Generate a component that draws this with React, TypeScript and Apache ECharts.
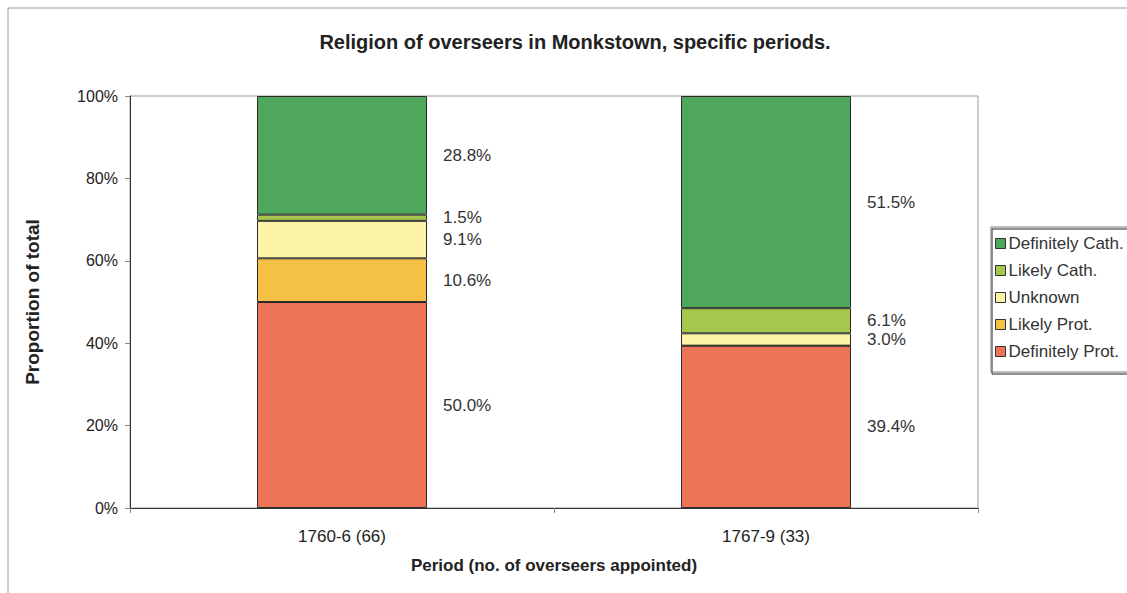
import React, { useEffect, useRef } from "react";
import * as echarts from "echarts";

const periods = ["1760-6 (66)", "1767-9 (33)"];
const definitelyProt = [50.0, 39.4];
const likelyProt = [10.6, 0];
const unknown = [9.1, 3.0];
const likelyCath = [1.5, 6.1];
const definitelyCath = [28.8, 51.5];
const yTicks = [0, 20, 40, 60, 80, 100];

const FONT = "'Liberation Sans', Arial, sans-serif";

export default function App() {
  const ref = useRef<HTMLDivElement>(null);

  useEffect(() => {
    if (!ref.current) return;
    const chart = echarts.init(ref.current, undefined, { renderer: "svg" });

    const mk = (name: string, data: number[], color: string) => ({
      name,
      type: "bar",
      stack: "total",
      barWidth: 170,
      data,
      itemStyle: { color, borderColor: "#2a2a2a", borderWidth: 1 },
      label: {
        show: true,
        position: "right",
        distance: 16,
        color: "#333",
        fontSize: 17,
        fontFamily: FONT,
        formatter: (p: any) => (p.value ? Number(p.value).toFixed(1) + "%" : ""),
      },
    });

    chart.setOption({
      animation: false,
      backgroundColor: "#fff",
      textStyle: { fontFamily: FONT },
      title: {
        text: "Religion of overseers in Monkstown, specific periods.",
        left: 570,
        top: 27,
        textAlign: "center",
        textStyle: { fontSize: 20, fontWeight: "bold", color: "#222", fontFamily: FONT },
      },
      grid: {
        left: 130,
        right: 149,
        top: 96,
        bottom: 85,
        show: true,
        borderColor: "#9a9a9a",
        borderWidth: 1,
      },
      legend: {
        orient: "vertical",
        left: 991,
        top: 227,
        data: ["Definitely Cath.", "Likely Cath.", "Unknown", "Likely Prot.", "Definitely Prot."],
        itemWidth: 10,
        itemHeight: 10,
        itemGap: 10,
        icon: "rect",
        padding: [8, 30, 12, 4],
        borderColor: "#777",
        borderWidth: 1,
        shadowColor: "#222",
        shadowOffsetX: 1,
        shadowOffsetY: 2,
        shadowBlur: 0,
        textStyle: { fontSize: 17, color: "#333", fontFamily: FONT, padding: [0, 0, 0, -2] },
        itemStyle: { borderColor: "#333", borderWidth: 1 },
      },
      xAxis: {
        type: "category",
        data: periods,
        name: "Period (no. of overseers appointed)",
        nameLocation: "middle",
        nameGap: 49,
        nameTextStyle: { fontSize: 17, fontWeight: "bold", color: "#222", fontFamily: FONT },
        axisLine: { lineStyle: { color: "#333", width: 1 } },
        axisTick: { show: true, length: 5, lineStyle: { color: "#888" } },
        axisLabel: { fontSize: 17, color: "#222", margin: 20 },
      },
      yAxis: {
        type: "value",
        min: yTicks[0],
        max: yTicks[yTicks.length - 1],
        interval: 20,
        name: "Proportion of total",
        nameLocation: "middle",
        nameGap: 88,
        nameTextStyle: { fontSize: 19, fontWeight: "bold", color: "#222", fontFamily: FONT },
        axisLine: { show: true, lineStyle: { color: "#333", width: 1 } },
        axisTick: { show: true, length: 5, lineStyle: { color: "#888" } },
        splitLine: { show: false },
        axisLabel: { fontSize: 16, color: "#222", margin: 12, formatter: "{value}%" },
      },
      graphic: [
        { type: "line", shape: { x1: 8, y1: 8, x2: 1127, y2: 8 }, style: { stroke: "#9a9a9a", lineWidth: 1 } },
        { type: "line", shape: { x1: 8, y1: 8, x2: 8, y2: 593 }, style: { stroke: "#9a9a9a", lineWidth: 1 } },
      ],
      series: [
        mk("Definitely Prot.", definitelyProt, "#ec7457"),
        mk("Likely Prot.", likelyProt, "#f4c046"),
        mk("Unknown", unknown, "#fbf3a6"),
        mk("Likely Cath.", likelyCath, "#a5c84c"),
        mk("Definitely Cath.", definitelyCath, "#4ea75c"),
      ],
    });

    return () => chart.dispose();
  }, []);

  return (
    <div
      ref={ref}
      style={{ position: "fixed", left: 0, top: 0, width: 1127, height: 593 }}
    />
  );
}
